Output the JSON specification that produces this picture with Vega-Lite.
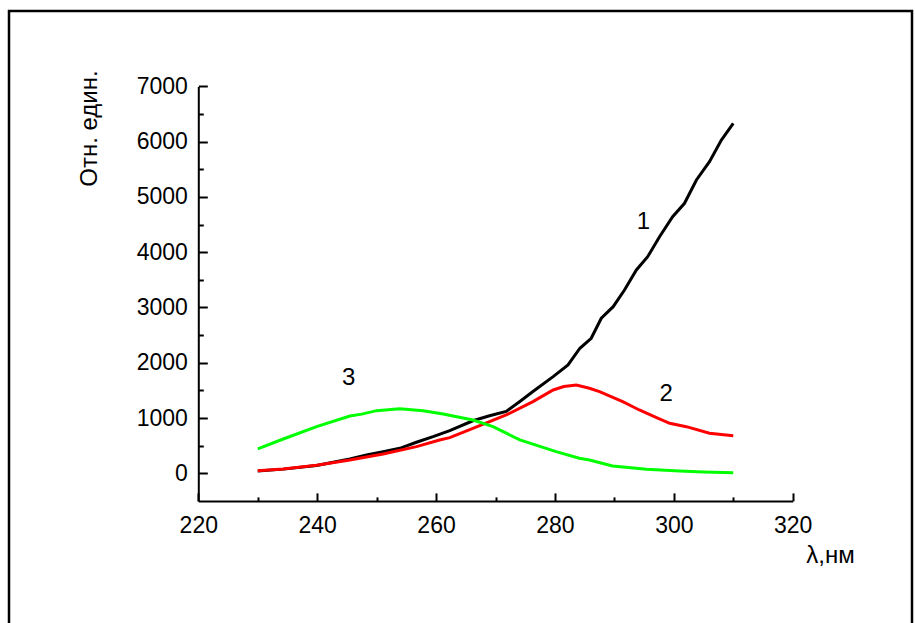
{
  "$schema": "https://vega.github.io/schema/vega-lite/v6.json",
  "autosize": {"type": "none"},
  "padding": {"left": 9, "top": 11, "right": 3, "bottom": -8},
  "width": 903,
  "height": 620,
  "background": "white",
  "config": {
    "view": {"stroke": "black", "strokeWidth": 2.5},
    "axis": {"grid": false}
  },
  "datasets": {
    "curves": [
      {"series": "1", "x": 230.0, "y": 40},
      {"series": "1", "x": 234.3, "y": 75},
      {"series": "1", "x": 239.9, "y": 140},
      {"series": "1", "x": 245.5, "y": 259},
      {"series": "1", "x": 248.3, "y": 331},
      {"series": "1", "x": 251.1, "y": 391},
      {"series": "1", "x": 253.9, "y": 452},
      {"series": "1", "x": 256.7, "y": 561},
      {"series": "1", "x": 259.5, "y": 662},
      {"series": "1", "x": 262.3, "y": 771},
      {"series": "1", "x": 266.2, "y": 950},
      {"series": "1", "x": 269.0, "y": 1040},
      {"series": "1", "x": 271.8, "y": 1120},
      {"series": "1", "x": 274.1, "y": 1300},
      {"series": "1", "x": 276.3, "y": 1480},
      {"series": "1", "x": 279.7, "y": 1748},
      {"series": "1", "x": 282.2, "y": 1960},
      {"series": "1", "x": 284.2, "y": 2262},
      {"series": "1", "x": 286.1, "y": 2443},
      {"series": "1", "x": 287.8, "y": 2805},
      {"series": "1", "x": 289.8, "y": 3014},
      {"series": "1", "x": 291.7, "y": 3316},
      {"series": "1", "x": 293.7, "y": 3678},
      {"series": "1", "x": 295.6, "y": 3919},
      {"series": "1", "x": 297.6, "y": 4281},
      {"series": "1", "x": 299.8, "y": 4643},
      {"series": "1", "x": 301.8, "y": 4885},
      {"series": "1", "x": 303.8, "y": 5307},
      {"series": "1", "x": 306.0, "y": 5638},
      {"series": "1", "x": 308.0, "y": 6030},
      {"series": "1", "x": 310.0, "y": 6332},
      {"series": "2", "x": 230.0, "y": 47},
      {"series": "2", "x": 234.3, "y": 78},
      {"series": "2", "x": 239.9, "y": 145},
      {"series": "2", "x": 245.5, "y": 240},
      {"series": "2", "x": 251.1, "y": 349},
      {"series": "2", "x": 256.7, "y": 482},
      {"series": "2", "x": 260.6, "y": 602},
      {"series": "2", "x": 262.3, "y": 644},
      {"series": "2", "x": 266.2, "y": 814},
      {"series": "2", "x": 271.8, "y": 1055},
      {"series": "2", "x": 276.3, "y": 1296},
      {"series": "2", "x": 279.7, "y": 1507},
      {"series": "2", "x": 281.5, "y": 1570},
      {"series": "2", "x": 283.6, "y": 1598},
      {"series": "2", "x": 285.8, "y": 1538},
      {"series": "2", "x": 287.5, "y": 1476},
      {"series": "2", "x": 291.4, "y": 1296},
      {"series": "2", "x": 294.2, "y": 1145},
      {"series": "2", "x": 297.0, "y": 1010},
      {"series": "2", "x": 299.3, "y": 904},
      {"series": "2", "x": 302.1, "y": 843},
      {"series": "2", "x": 306.0, "y": 723},
      {"series": "2", "x": 310.0, "y": 680},
      {"series": "3", "x": 230.0, "y": 440},
      {"series": "3", "x": 234.3, "y": 620},
      {"series": "3", "x": 239.9, "y": 843},
      {"series": "3", "x": 245.5, "y": 1037},
      {"series": "3", "x": 247.5, "y": 1070},
      {"series": "3", "x": 250.0, "y": 1133},
      {"series": "3", "x": 253.9, "y": 1169},
      {"series": "3", "x": 257.8, "y": 1133},
      {"series": "3", "x": 261.2, "y": 1073},
      {"series": "3", "x": 266.2, "y": 964},
      {"series": "3", "x": 269.6, "y": 843},
      {"series": "3", "x": 274.1, "y": 603},
      {"series": "3", "x": 280.2, "y": 391},
      {"series": "3", "x": 284.1, "y": 271},
      {"series": "3", "x": 285.8, "y": 241},
      {"series": "3", "x": 289.7, "y": 132},
      {"series": "3", "x": 295.4, "y": 72},
      {"series": "3", "x": 301.0, "y": 42},
      {"series": "3", "x": 305.0, "y": 25},
      {"series": "3", "x": 310.0, "y": 11}
    ],
    "labels": [
      {"label": "1", "x": 294.9, "y": 4547},
      {"label": "2", "x": 298.7, "y": 1435},
      {"label": "3", "x": 245.3, "y": 1724}
    ]
  },
  "layer": [
    {
      "data": {"name": "curves"},
      "mark": {"type": "line", "strokeWidth": 3, "clip": false},
      "encoding": {
        "x": {
          "field": "x", "type": "quantitative",
          "scale": {"domain": [220, 320], "range": [189.3, 783.7], "nice": false, "zero": false},
          "axis": {
            "values": [220, 230, 240, 250, 260, 270, 280, 290, 300, 310, 320],
            "labelExpr": "datum.value % 20 === 0 ? datum.label : ''",
            "offset": -130.1,
            "domainColor": "black", "domainWidth": 2,
            "tickColor": "black", "tickWidth": 2,
            "tickSize": {"condition": {"test": "datum.value % 20 === 0", "value": -8}, "value": -4},
            "labelFont": "Liberation Sans", "labelFontSize": 23, "labelColor": "black",
            "labelPadding": 22, "labelFlush": false, "labelOverlap": false,
            "title": "λ,нм",
            "titleFont": "Liberation Sans", "titleFontSize": 24, "titleFontWeight": "normal", "titleColor": "black",
            "titleX": 821, "titleY": 62, "titleAlign": "center", "titleBaseline": "alphabetic", "titleAnchor": null
          }
        },
        "y": {
          "field": "y", "type": "quantitative",
          "scale": {"domain": [-500, 7000], "range": [489.9, 75.4], "nice": false, "zero": false},
          "axis": {
            "values": [0, 500, 1000, 1500, 2000, 2500, 3000, 3500, 4000, 4500, 5000, 5500, 6000, 6500, 7000],
            "labelExpr": "datum.value % 1000 === 0 ? datum.label : ''",
            "format": "d",
            "offset": -189.3,
            "domainColor": "black", "domainWidth": 2,
            "tickColor": "black", "tickWidth": 2,
            "tickSize": {"condition": {"test": "datum.value % 1000 === 0", "value": -9}, "value": -5},
            "labelFont": "Liberation Sans", "labelFontSize": 23, "labelColor": "black",
            "labelPadding": 20, "labelFlush": false, "labelOverlap": false,
            "title": "Отн. един.",
            "titleFont": "Liberation Sans", "titleFontSize": 24, "titleFontWeight": "normal", "titleColor": "black",
            "titleAngle": 270, "titleX": -102, "titleY": 117, "titleAlign": "center", "titleBaseline": "alphabetic", "titleAnchor": null
          }
        },
        "color": {
          "field": "series", "type": "nominal",
          "scale": {"domain": ["1", "2", "3"], "range": ["#000000", "#ff0000", "#00ff00"]},
          "legend": null
        }
      }
    },
    {
      "data": {"name": "labels"},
      "mark": {"type": "text", "font": "Liberation Sans", "fontSize": 24, "color": "black", "align": "center", "baseline": "middle"},
      "encoding": {
        "x": {"field": "x", "type": "quantitative"},
        "y": {"field": "y", "type": "quantitative"},
        "text": {"field": "label", "type": "nominal"}
      }
    }
  ]
}
